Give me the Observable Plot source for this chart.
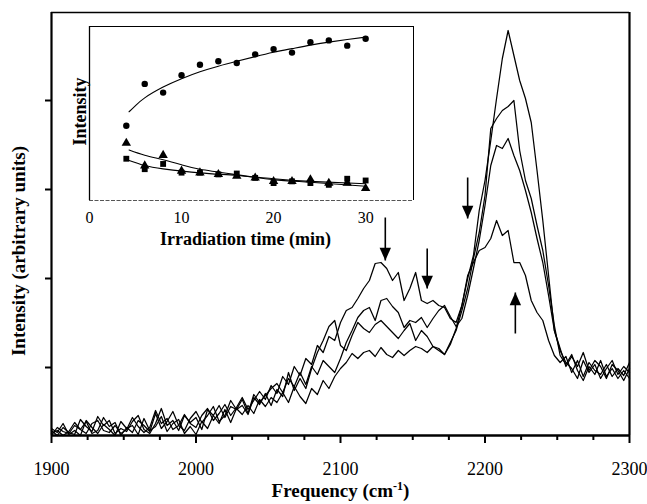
<!DOCTYPE html>
<html><head><meta charset="utf-8">
<script src="https://cdn.jsdelivr.net/npm/d3@7"></script>
<script src="https://cdn.jsdelivr.net/npm/@observablehq/plot@0.6"></script>
<style>
body{margin:0;background:#fff;}
#wrap{position:relative;width:647px;height:504px;}
#inset{position:absolute;left:50px;top:14px;}
</style></head><body><div id="wrap"><div id="main"></div><div id="inset"></div></div>
<script>
// ---------- main spectra (frequency in cm-1, intensity in arbitrary units) ----------
const freq = [
1900,1904,1908,1912,1916,1920,1924,1928,1932,1936,
1940,1944,1948,1952,1956,1960,1964,1968,1972,1976,
1980,1984,1988,1992,1996,2000,2004,2008,2012,2016,
2020,2024,2028,2032,2036,2040,2044,2048,2052,2056,
2060,2064,2068,2072,2076,2080,2084,2088,2092,2096,
2100,2104,2108,2112,2116,2120,2124,2128,2132,2136,
2140,2144,2148,2152,2156,2160,2164,2168,2172,2176,
2180,2184,2188,2192,2196,2200,2204,2208,2212,2216,
2220,2224,2228,2232,2236,2240,2244,2248,2252,2256,
2260,2264,2268,2272,2276,2280,2284,2288,2292,2296,
2300];
const spectrumA = [
0.02,0.05,0.00,0.04,0.13,0.06,0.02,0.12,0.15,0.05,
0.03,0.10,0.02,0.06,0.18,0.09,0.03,0.08,0.25,0.12,
0.17,0.06,0.10,0.21,0.12,0.08,0.20,0.27,0.15,0.22,
0.31,0.20,0.28,0.38,0.26,0.35,0.44,0.36,0.50,0.42,
0.59,0.51,0.69,0.60,0.77,0.71,0.90,0.83,0.99,0.95,
1.13,1.25,1.28,1.37,1.47,1.55,1.72,1.73,1.67,1.55,
1.63,1.35,1.47,1.63,1.35,1.32,1.35,1.30,1.28,1.17,
1.13,1.30,1.60,1.73,1.85,1.88,1.97,2.15,2.00,2.05,
1.73,1.73,1.60,1.35,1.23,1.15,0.95,0.80,0.73,0.79,
0.63,0.75,0.59,0.73,0.65,0.61,0.71,0.59,0.67,0.60,
0.73];
const spectrumB = [
0.05,0.00,0.08,0.03,0.01,0.16,0.09,0.04,0.19,0.10,
0.15,0.02,0.07,0.04,0.14,0.20,0.06,0.02,0.12,0.27,
0.10,0.15,0.05,0.20,0.13,0.18,0.06,0.26,0.20,0.30,
0.18,0.29,0.26,0.36,0.22,0.41,0.33,0.40,0.47,0.52,
0.43,0.57,0.49,0.63,0.51,0.69,0.61,0.75,0.69,0.63,
0.77,0.93,1.05,1.18,1.25,1.28,1.15,1.35,1.37,1.29,
1.23,1.08,1.15,1.13,1.18,1.08,1.17,1.25,1.30,1.19,
1.09,1.17,1.40,1.67,1.95,2.30,2.70,2.90,2.87,2.97,
2.80,2.65,2.45,2.23,1.97,1.73,1.40,1.05,0.85,0.73,
0.67,0.57,0.75,0.63,0.71,0.57,0.67,0.75,0.61,0.69,
0.63];
const spectrumC = [
0.00,0.08,0.04,0.02,0.10,0.06,0.14,0.02,0.05,0.18,
0.09,0.13,0.00,0.08,0.03,0.15,0.10,0.04,0.22,0.07,
0.14,0.24,0.10,0.05,0.17,0.24,0.13,0.20,0.29,0.14,
0.20,0.35,0.26,0.30,0.21,0.38,0.31,0.42,0.30,0.46,
0.39,0.63,0.45,0.57,0.47,0.67,0.83,0.95,1.09,1.15,
0.90,0.85,1.00,1.13,1.07,1.03,1.11,1.15,1.09,1.03,
0.97,1.05,1.12,0.95,1.05,0.99,0.89,0.85,0.81,0.93,
1.05,1.25,1.47,1.77,2.03,2.40,3.07,3.17,3.25,3.29,
3.35,2.85,2.55,2.37,2.10,1.85,1.50,1.10,0.80,0.71,
0.81,0.65,0.55,0.69,0.61,0.75,0.59,0.67,0.57,0.65,
0.57];
const spectrumD = [
0.07,0.03,0.12,0.01,0.05,0.00,0.15,0.08,0.02,0.11,
0.06,0.00,0.14,0.07,0.10,0.01,0.17,0.05,0.09,0.19,
0.04,0.12,0.16,0.02,0.09,0.01,0.14,0.07,0.20,0.12,
0.26,0.13,0.27,0.21,0.30,0.22,0.36,0.29,0.38,0.33,
0.43,0.33,0.49,0.39,0.32,0.47,0.41,0.55,0.47,0.59,
0.67,0.73,0.82,0.77,0.83,0.85,0.79,0.88,0.81,0.78,
0.85,0.80,0.85,0.89,0.87,0.83,0.89,0.87,0.81,0.91,
1.07,1.30,1.57,1.80,2.25,2.55,2.95,3.37,3.77,4.05,
3.80,3.55,3.37,3.13,2.65,2.15,1.60,1.05,0.87,0.69,
0.79,0.69,0.83,0.65,0.75,0.69,0.57,0.71,0.65,0.55,
0.67];
const xMajorTicks = [1900, 2000, 2100, 2200, 2300];
const xMinorTicks = [1925, 1950, 1975, 2025, 2050, 2075, 2125, 2150, 2175, 2225, 2250, 2275];
const yTicks = [0.68, 1.57, 2.46, 3.35];
const yMax = 4.23;

// arrows (annotation): x position, tail value, tip value
const arrowX = [2131, 2160, 2188, 2221];
const arrowTail = [2.18, 1.87, 2.58, 1.02];
const arrowTip = [1.75, 1.47, 2.17, 1.43];

// ---------- inset: intensity vs irradiation time ----------
const time = [4, 6, 8, 10, 12, 14, 16, 18, 20, 22, 24, 26, 28, 30];
const growCircles = [0.43, 0.67, 0.62, 0.72, 0.78, 0.80, 0.79, 0.84, 0.87, 0.85, 0.91, 0.92, 0.89, 0.93];
const decayTriangles = [0.33, 0.20, 0.26, 0.17, 0.16, 0.15, 0.14, 0.13, 0.11, 0.11, 0.12, 0.10, 0.10, 0.07];
const decaySquares = [0.24, 0.18, 0.21, 0.16, 0.16, 0.15, 0.155, 0.13, 0.10, 0.11, 0.10, 0.09, 0.125, 0.115];
const fitGrowT = [4.3, 5, 6, 8, 10, 12, 14, 16, 18, 20, 22, 24, 26, 28, 30];
const fitGrowV = [0.51, 0.545, 0.59, 0.652, 0.70, 0.74, 0.772, 0.80, 0.827, 0.852, 0.873, 0.893, 0.91, 0.925, 0.939];
const fitTriT = [4.3, 6, 8, 10, 12, 16, 20, 24, 30];
const fitTriV = [0.29, 0.26, 0.234, 0.205, 0.18, 0.148, 0.12, 0.105, 0.082];
const fitSqT = [4, 6, 8, 12, 16, 20, 24, 30];
const fitSqV = [0.236, 0.201, 0.182, 0.159, 0.144, 0.125, 0.11, 0.096];
const insetTicks = [0, 10, 20, 30];
const insetXMax = 35.2;

// ---------- build tables ----------
const series = {A: spectrumA, B: spectrumB, C: spectrumC, D: spectrumD};
const rows = [];
for (const [k, arr] of Object.entries(series)) freq.forEach((f, i) => rows.push({f, v: arr[i], s: k}));
const arrows = arrowX.map((x, i) => ({x, tail: arrowTail[i], tip: arrowTip[i], rot: arrowTip[i] > arrowTail[i] ? 180 : 0}));
const toRows = (ts, vs) => ts.map((t, i) => ({t, v: vs[i]}));

const headSym = {draw(ctx, size) {
  const r = Math.sqrt(size / Math.PI);
  const w = 1.3 * r, h = 2.9 * r;
  ctx.moveTo(0, 0); ctx.lineTo(-w, -h); ctx.lineTo(w, -h); ctx.closePath();
}};

const FONT = '"Liberation Serif","Times New Roman",serif';

const main = Plot.plot({
  width: 647, height: 504,
  marginLeft: 51, marginRight: 18, marginTop: 12, marginBottom: 69,
  x: {domain: [1900, 2300]},
  y: {domain: [0, yMax]},
  style: {fontFamily: FONT, fontSize: "18px", background: "white", color: "black"},
  marks: [
    Plot.ruleY([yMax], {strokeWidth: 1.3}),
    Plot.ruleX([2300], {strokeWidth: 2.2}),
    Plot.line(rows, {x: "f", y: "v", z: "s", stroke: "black", strokeWidth: 1.25}),
    Plot.axisX({ticks: xMinorTicks, tickSize: 5, tickFormat: () => "", label: null, strokeWidth: 2}),
    Plot.axisX({ticks: xMajorTicks, tickSize: 8, tickPadding: 19, tickFormat: d => String(d), fontSize: 18, label: null, strokeWidth: 2}),
    Plot.axisY({ticks: yTicks, tickSize: 6, tickFormat: () => "", label: null, strokeWidth: 2}),
    Plot.ruleX([1900], {strokeWidth: 2.2}),
    Plot.ruleY([0], {strokeWidth: 2.6}),
    Plot.link(arrows, {x1: "x", x2: "x", y1: "tail", y2: "tip", stroke: "black", strokeWidth: 1.6}),
    Plot.dot(arrows, {x: "x", y: "tip", symbol: headSym, r: 4.4, fill: "black", stroke: "none", rotate: "rot"}),
    Plot.text(["Frequency (cm-1)"], {frameAnchor: "bottom", lineAnchor: "middle", textAnchor: "middle", dy: 55, fontWeight: "bold", fontSize: 19}),
    Plot.text(["Intensity (arbitrary units)"], {frameAnchor: "left", textAnchor: "middle", lineAnchor: "middle", rotate: -90, dx: -33, dy: 27, fontWeight: "bold", fontSize: 19})
  ]
});
document.getElementById("main").appendChild(main);
d3.select(main).selectAll("text").filter(function() { return this.textContent === "Frequency (cm-1)"; }).each(function() {
  const t = d3.select(this); t.text(null);
  t.append("tspan").text("Frequency (cm");
  t.append("tspan").attr("dy", "-7").attr("font-size", "12").text("-1");
  t.append("tspan").attr("dy", "7").text(")");
});

const inset = Plot.plot({
  width: 370, height: 240,
  marginLeft: 39, marginRight: 7, marginTop: 12, marginBottom: 54,
  x: {domain: [0, insetXMax]},
  y: {domain: [0, 1], axis: null},
  style: {fontFamily: FONT, fontSize: "16px", background: "transparent", color: "black"},
  marks: [
    Plot.ruleY([0], {stroke: "#555", strokeWidth: 1.2, strokeDasharray: "4,1.5"}),
    Plot.ruleX([0], {strokeWidth: 1.3}),
    Plot.ruleY([1], {strokeWidth: 1}),
    Plot.ruleX([insetXMax], {strokeWidth: 1}),
    Plot.axisX({ticks: insetTicks, tickSize: 0, tickPadding: 11, fontSize: 16, label: null}),
    Plot.line(toRows(fitGrowT, fitGrowV), {x: "t", y: "v", curve: "natural", strokeWidth: 1.1}),
    Plot.line(toRows(fitTriT, fitTriV), {x: "t", y: "v", curve: "natural", strokeWidth: 1.1}),
    Plot.line(toRows(fitSqT, fitSqV), {x: "t", y: "v", curve: "natural", strokeWidth: 1.1}),
    Plot.dot(toRows(time, growCircles), {x: "t", y: "v", symbol: "circle", r: 3.2, fill: "black"}),
    Plot.dot(toRows(time, decayTriangles), {x: "t", y: "v", symbol: "triangle", r: 3.5, fill: "black"}),
    Plot.dot(toRows(time, decaySquares), {x: "t", y: "v", symbol: "square", r: 3.3, fill: "black"}),
    Plot.text(["Irradiation time (min)"], {frameAnchor: "bottom", lineAnchor: "middle", textAnchor: "middle", dy: 39, dx: -6, fontWeight: "bold", fontSize: 18}),
    Plot.text(["Intensity"], {frameAnchor: "left", textAnchor: "middle", lineAnchor: "middle", rotate: -90, dx: -9, dy: -2, fontWeight: "bold", fontSize: 18})
  ]
});
document.getElementById("inset").appendChild(inset);
</script>
</body></html>
